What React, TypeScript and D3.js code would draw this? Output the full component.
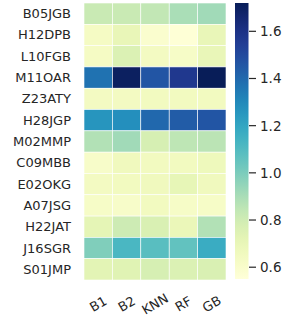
import * as d3 from "d3";

const rows = ["B05JGB", "H12DPB", "L10FGB", "M11OAR", "Z23ATY", "H28JGP", "M02MMP", "C09MBB", "E02OKG", "A07JSG", "H22JAT", "J16SGR", "S01JMP"];
const cols = ["B1", "B2", "KNN", "RF", "GB"];
const b1 = [0.82, 0.63, 0.63, 1.37, 0.64, 1.26, 0.88, 0.61, 0.64, 0.62, 0.72, 0.99, 0.73];
const b2 = [0.82, 0.7, 0.76, 1.7, 0.64, 1.28, 0.92, 0.66, 0.65, 0.61, 0.81, 1.12, 0.74];
const knn = [0.84, 0.59, 0.64, 1.46, 0.65, 1.4, 0.78, 0.65, 0.66, 0.65, 0.77, 1.08, 0.78];
const rf = [0.9, 0.56, 0.62, 1.57, 0.65, 1.44, 0.85, 0.65, 0.71, 0.62, 0.69, 1.06, 0.76];
const gb = [0.92, 0.7, 0.7, 1.72, 0.65, 1.46, 0.86, 0.67, 0.66, 0.62, 0.88, 1.17, 0.77];
const series = [b1, b2, knn, rf, gb];
const cbTicks = [0.6, 0.8, 1.0, 1.2, 1.4, 1.6];

const vmin = 0.55;
const vmax = 1.72;

export default function App() {
  const x = d3.scaleBand().domain(cols).range([84, 226]);
  const y = d3.scaleBand().domain(rows).range([3, 280]);
  const color = d3.scaleSequential(d3.interpolateYlGnBu).domain([vmin, vmax]);
  const cb = d3.scaleLinear().domain([vmin, vmax]).range([279, 3]);
  const stops = d3.range(0, 1.0001, 0.05);
  const font = "DejaVu Sans, sans-serif";
  const ink = "#262626";

  return (
    <svg width={293} height={329} style={{ position: "absolute", left: 0, top: 0 }} fontFamily={font}>
      <defs>
        <linearGradient id="cbar" x1="0" y1="1" x2="0" y2="0">
          {stops.map((s) => (
            <stop key={s} offset={s} stopColor={color(vmin + s * (vmax - vmin))} />
          ))}
        </linearGradient>
      </defs>
      {series.map((vals, ci) =>
        vals.map((v, ri) => (
          <rect
            key={ci + "-" + ri}
            x={x(cols[ci])!}
            y={y(rows[ri])!}
            width={x.bandwidth()}
            height={y.bandwidth()}
            fill={color(v)}
            stroke="white"
            strokeWidth={0.6}
          />
        ))
      )}
      {rows.map((r) => (
        <text key={r} x={71} y={y(r)! + y.bandwidth() / 2} textAnchor="end" dominantBaseline="central" fontSize={13} fill={ink}>
          {r}
        </text>
      ))}
      {cols.map((c) => (
        <text
          key={c}
          transform={`translate(${x(c)! + x.bandwidth() / 2},304) rotate(-30)`}
          textAnchor="middle"
          dominantBaseline="central"
          fontSize={13}
          fill={ink}
        >
          {c}
        </text>
      ))}
      <rect x={235} y={3} width={13.5} height={276} fill="url(#cbar)" />
      {cbTicks.map((t) => (
        <g key={t}>
          <line x1={249} x2={256} y1={cb(t)} y2={cb(t)} stroke={ink} strokeWidth={1.2} />
          <text x={260} y={cb(t)} dominantBaseline="central" fontSize={13.5} fill={ink}>
            {t.toFixed(1)}
          </text>
        </g>
      ))}
    </svg>
  );
}
